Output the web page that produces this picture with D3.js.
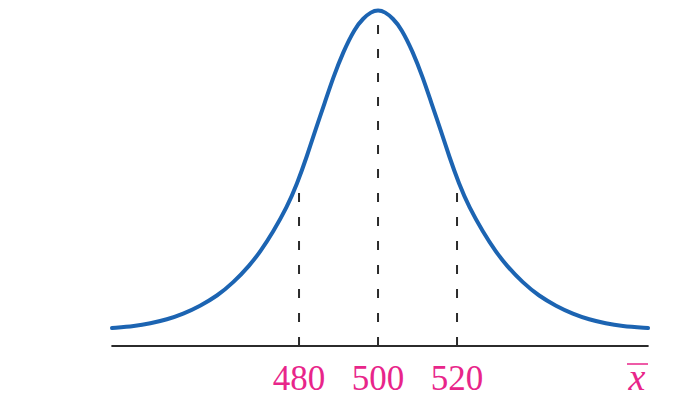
<!DOCTYPE html>
<html>
<head>
<meta charset="utf-8">
<script src="https://cdn.jsdelivr.net/npm/d3@7"></script>
<style>
  html, body { margin: 0; padding: 0; background: #fff; }
  svg { display: block; }
</style>
</head>
<body>
<svg id="chart" width="676" height="402"></svg>
<script>
// ---- data ----
// x positions of the sampled curve (sample-mean units)
const curveX = [432.66, 438.48, 442.28, 446.58, 450.63, 454.94, 459.24, 463.29, 467.59, 470.13,
  473.42, 476.96, 479.49, 482.03, 484.05, 486.58, 488.61, 491.14, 494.18, 496.20, 498.23, 500,
  501.77, 503.80, 505.82, 508.86, 511.39, 513.42, 515.95, 517.97, 520.51, 523.04, 526.58,
  529.87, 532.41, 536.71, 540.76, 545.06, 549.37, 553.42, 557.72, 561.52, 568.35];
// relative height of the curve above the axis (peak = 1)
const curveY = [0.0536, 0.0595, 0.0670, 0.0789, 0.0952, 0.1190, 0.1488, 0.1875, 0.2411, 0.2798,
  0.3393, 0.4137, 0.4821, 0.5655, 0.6399, 0.7262, 0.7976, 0.8750, 0.9464, 0.9747, 0.9946, 1.0,
  0.9946, 0.9747, 0.9464, 0.8750, 0.7976, 0.7262, 0.6399, 0.5655, 0.4821, 0.4137, 0.3393,
  0.2798, 0.2411, 0.1875, 0.1488, 0.1190, 0.0952, 0.0789, 0.0670, 0.0595, 0.0536];
// dashed reference lines: x value and relative top height
const refX = [480, 500, 520];
const refTopByX = [0.455, 0.96, 0.455];
const tickLabels = ["480", "500", "520"];
const axisLabel = "x";
const xDomain = [432.5, 568.5];

// ---- drawing ----
const svg = d3.select("#chart");
const x = d3.scaleLinear().domain(xDomain).range([111.4, 648.6]);
const y = d3.scaleLinear().domain([0, 1]).range([346, 10]);

// axis line
svg.append("line")
  .attr("x1", x(xDomain[0])).attr("x2", x(xDomain[1]))
  .attr("y1", y(0)).attr("y2", y(0))
  .attr("stroke", "#2b2b2b").attr("stroke-width", 2);

// dashed lines (drawn from the axis upward so dashes start at the axis)
svg.selectAll("line.ref").data(refX).enter().append("line")
  .attr("class", "ref")
  .attr("x1", d => x(d)).attr("x2", d => x(d))
  .attr("y1", y(0)).attr("y2", (d, i) => y(refTopByX[i]))
  .attr("stroke", "#2b2b2b").attr("stroke-width", 2)
  .attr("stroke-dasharray", "9,15");

// curve
const pts = curveX.map((d, i) => [d, curveY[i]]);
svg.append("path")
  .datum(pts)
  .attr("fill", "none")
  .attr("stroke", "#1c64b2")
  .attr("stroke-width", 4)
  .attr("stroke-linecap", "round")
  .attr("stroke-linejoin", "round")
  .attr("d", d3.line().x(d => x(d[0])).y(d => y(d[1])).curve(d3.curveBasis));

// tick labels
svg.selectAll("text.tick").data(refX).enter().append("text")
  .attr("class", "tick")
  .attr("x", d => x(d)).attr("y", 390)
  .attr("text-anchor", "middle")
  .attr("font-family", "'Liberation Serif', 'Times New Roman', serif")
  .attr("font-size", 35)
  .attr("fill", "#e8258a")
  .text((d, i) => tickLabels[i]);

// x-bar label
svg.append("text")
  .attr("x", 637).attr("y", 390)
  .attr("text-anchor", "middle")
  .attr("font-family", "'Liberation Serif', 'Times New Roman', serif")
  .attr("font-style", "italic")
  .attr("font-size", 38)
  .attr("fill", "#e8258a")
  .text(axisLabel);
svg.append("line")
  .attr("x1", 627).attr("x2", 648)
  .attr("y1", 364).attr("y2", 364)
  .attr("stroke", "#e8258a").attr("stroke-width", 1.5);
</script>
</body>
</html>
